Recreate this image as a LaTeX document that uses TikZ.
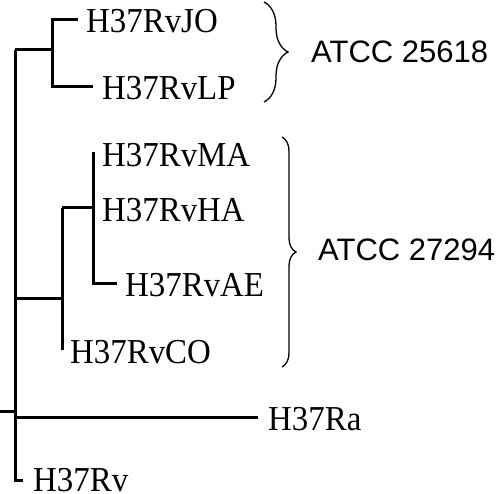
\documentclass[tikz,border=0pt]{standalone}
\usepackage{fontspec}
\setmainfont{Liberation Serif}
\newfontfamily\labsans{Liberation Sans}
\usetikzlibrary{decorations.pathreplacing}
\tikzset{
  branch/.style={line width=3pt, line join=miter, line cap=butt},
  leaf/.style={anchor=west, inner sep=0pt, xscale=0.94, font=\fontsize{35}{38}\selectfont},
  grp/.style={anchor=west, inner sep=0pt, font=\labsans\fontsize{31}{34}\selectfont},
  bracebox/.style={decorate, line width=1.3pt}
}
\begin{document}
\begin{tikzpicture}[x=1pt,y=-1pt]
\useasboundingbox (0,0) rectangle (500,494);
% internal coordinates
\coordinate (rootstub) at (0,411);
\coordinate (root) at (15,411);
\coordinate (n1) at (15,50);
\coordinate (n1r) at (52,50);
\coordinate (jo) at (52,20);
\coordinate (joend) at (78,20);
\coordinate (lp) at (52,87);
\coordinate (lpend) at (93,87);
\coordinate (n2) at (15,298);
\coordinate (n2r) at (62,298);
\coordinate (n3) at (62,208);
\coordinate (n3r) at (93,208);
\coordinate (ma) at (93,152);
\coordinate (ae) at (93,283);
\coordinate (aeend) at (117,283);
\coordinate (co) at (62,350);
\coordinate (ra) at (15,417);
\coordinate (raend) at (258,417);
\coordinate (rv) at (15,480);
\coordinate (rvend) at (23,480);
% leaves
\node[leaf] (JO) at (86,21) {H37RvJO};
\node[leaf] (LP) at (102,88) {H37RvLP};
\node[leaf] (MA) at (102,155) {H37RvMA};
\node[leaf] (HA) at (102,210) {H37RvHA};
\node[leaf] (AE) at (125,285) {H37RvAE};
\node[leaf] (CO) at (70,352) {H37RvCO};
\node[leaf] (RA) at (268,419) {H37Ra};
\node[leaf] (RV) at (33,480.5) {H37Rv};
% branches
\draw[branch] (rootstub) -- (root);
\draw[branch] (n1) -- (rv) -- (rvend);
\draw[branch] (n1) -- (n1r);
\draw[branch] (joend) -- (jo) -- (lp) -- (lpend);
\draw[branch] (n2) -- (n2r);
\draw[branch] (n3) -- (co);
\draw[branch] (n3) -- (n3r);
\draw[branch] (ma) -- (ae) -- (aeend);
\draw[branch] (ra) -- (raend);
% braces
\draw[bracebox, decoration={brace, amplitude=24pt}] (264,2) -- (264,102);
\draw[bracebox, decoration={brace, amplitude=14pt}] (282,137) -- (282,367);
\node[grp] (G1) at (311,52) {ATCC 25618};
\node[grp] (G2) at (318,250) {ATCC 27294};
\end{tikzpicture}
\end{document}
